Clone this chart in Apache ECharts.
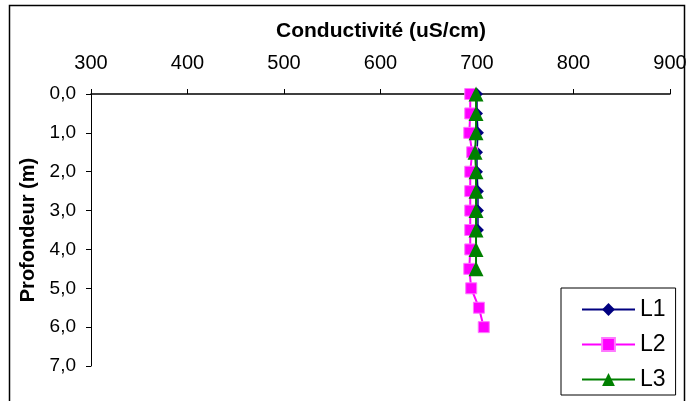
<!DOCTYPE html>
<html>
<head>
<meta charset="utf-8">
<script src="https://cdn.jsdelivr.net/npm/echarts@6/dist/echarts.min.js"></script>
<style>
  html, body { margin: 0; padding: 0; background: #fff; }
  #chart { width: 690px; height: 401px; }
</style>
</head>
<body>
<div id="chart"></div>
<script>
// depth (m) for each reading
var depths = [0, 0.5, 1, 1.5, 2, 2.5, 3, 3.5, 4, 4.5, 5, 5.5, 6];
// conductivity readings (uS/cm)
var l1Values = [700, 700, 701, 700, 700, 701, 701, 701];
var l2Values = [693, 693, 692, 695, 693, 693, 693, 693, 693, 692, 694, 702, 707];
var l3Values = [699, 699, 699, 698, 699, 699, 699, 699, 699, 699];
var seriesNames = ["L1", "L2", "L3"];

function toPairs(values) {
  let out = [];
  for (let i = 0; i < values.length; i++) {
    out.push([values[i], depths[i]]);
  }
  return out;
}

var dom = document.getElementById("chart");
var myChart = echarts.init(dom, null, { renderer: "canvas" });

var font = "Liberation Sans, Arial, sans-serif";

var option = {
  backgroundColor: "#fff",
  animation: false,
  title: {
    text: "Conductivité (uS/cm)",
    left: 376,
    top: 16,
    textAlign: "center",
    textStyle: { fontFamily: font, fontSize: 21, fontWeight: "bold", color: "#000" }
  },
  graphic: [
    {
      type: "rect",
      shape: { x: 9.5, y: 5.5, width: 675, height: 420 },
      style: { fill: "none", stroke: "#000", lineWidth: 1.5 },
      z: -1
    }
  ],
  grid: { left: 91, top: 94, right: 20, bottom: 35 },
  xAxis: {
    type: "value",
    position: "top",
    min: 300,
    max: 900,
    interval: 100,
    axisLine: { show: true, lineStyle: { color: "#000", width: 1.5 } },
    axisTick: { show: true, inside: false, length: 5, lineStyle: { color: "#000" } },
    axisLabel: { fontFamily: font, fontSize: 20, color: "#000", margin: 21 },
    splitLine: { show: false }
  },
  yAxis: {
    type: "value",
    inverse: true,
    min: 0,
    max: 7,
    interval: 1,
    name: "Profondeur (m)",
    nameLocation: "middle",
    nameGap: 52,
    nameTextStyle: { fontFamily: font, fontSize: 20, fontWeight: "bold", color: "#000" },
    axisLine: { show: true, lineStyle: { color: "#000", width: 1 } },
    axisTick: { show: true, length: 5, lineStyle: { color: "#000" } },
    axisLabel: {
      fontFamily: font, fontSize: 19, color: "#000", margin: 15,
      formatter: function (v) { return v.toFixed(1).replace(".", ","); }
    },
    splitLine: { show: false }
  },
  legend: {
    orient: "vertical",
    left: 561,
    top: 288,
    width: 124,
    padding: [10, 10, 4, 20],
    itemGap: 12,
    itemWidth: 53,
    itemHeight: 16,
    borderColor: "#000",
    borderWidth: 1,
    backgroundColor: "#fff",
    data: seriesNames,
    textStyle: { fontFamily: font, fontSize: 23, color: "#000", padding: [0, 0, 0, 0] }
  },
  series: [
    {
      name: seriesNames[0],
      type: "line",
      data: toPairs(l1Values),
      symbol: "diamond",
      symbolSize: 12,
      color: "#000080",
      lineStyle: { width: 1.5, color: "#000080" },
      itemStyle: { color: "#000080" }
    },
    {
      name: seriesNames[1],
      type: "line",
      data: toPairs(l2Values),
      symbol: "rect",
      symbolSize: 11,
      color: "#ff00ff",
      lineStyle: { width: 2, color: "#ff00ff" },
      itemStyle: { color: "#ff00ff", borderColor: "#ff77ff", borderWidth: 1 }
    },
    {
      name: seriesNames[2],
      type: "line",
      data: toPairs(l3Values),
      symbol: "triangle",
      symbolSize: 15,
      color: "#008000",
      lineStyle: { width: 2, color: "#008000" },
      itemStyle: { color: "#008000" }
    }
  ]
};

myChart.setOption(option);
window.addEventListener("resize", myChart.resize);
</script>
</body>
</html>
